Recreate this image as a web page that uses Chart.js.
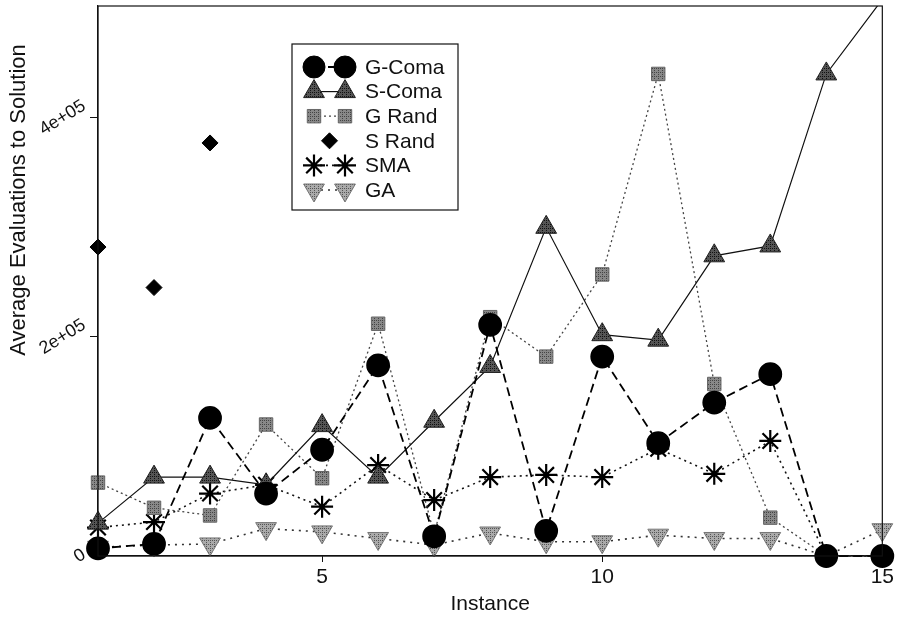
<!DOCTYPE html>
<html>
<head>
<meta charset="utf-8">
<script src="https://cdn.jsdelivr.net/npm/chart.js@4/dist/chart.umd.min.js"></script>
<style>
  html, body { margin: 0; padding: 0; background: #fff; }
  #wrap { width: 897px; height: 618px; }
</style>
</head>
<body>
<div id="wrap"><canvas id="chart"></canvas></div>
<script>
// ---- data ----
const instances = [1, 2, 3, 4, 5, 6, 7, 8, 9, 10, 11, 12, 13, 14, 15];
const gComa = [7000, 11000, 126000, 57000, 97000, 174000, 18000, 211000, 23000, 182000, 103000, 140000, 166000, 0, 0];
const sComa = [30000, 72000, 72000, 65000, 119000, 72000, 123000, 173000, 300000, 202000, 197000, 274000, 283000, 440000, 508000];
const gRand = [67000, 44000, 37000, 120000, 71000, 212000, 20000, 218000, 182000, 257000, 440000, 157000, 35000, 0, 0];
const sRand = [282000, 245000, 377000, null, null, null, null, null, null, null, null, null, null, null, null];
const sma = [26000, 31000, 57000, 65000, 45000, 83000, 51000, 72000, 74000, 72000, 98000, 75000, 105000, 0, 0];
const ga = [8000, 10000, 11000, 25000, 22000, 16000, 10000, 21000, 13000, 13000, 19000, 16000, 16000, 0, 24000];

const xTicks = [5, 10, 15];
const yTicks = [0, 200000, 400000];
const yTickLabels = ['0', '2e+05', '4e+05'];

const FONT = "'Liberation Sans', Arial, sans-serif";

// small hatch patterns for the grey markers
function hatch(bg, fg) {
    const c = document.createElement('canvas');
    c.width = 4; c.height = 4;
    const g = c.getContext('2d');
    g.fillStyle = bg;
    g.fillRect(0, 0, 4, 4);
    g.fillStyle = fg;
    g.fillRect(0, 0, 1, 1);
    g.fillRect(2, 2, 1, 1);
    g.fillRect(2, 0, 1, 1);
    return g.createPattern(c, 'repeat');
}

const triFill = hatch('#555', '#111');
const sqFill = hatch('#888', '#444');
const gaFill = hatch('#aaa', '#555');

const pts = arr => instances.map((x, i) => ({ x: x, y: arr[i] }));
const clip = { left: 20, top: 0, right: 20, bottom: 20 };

const datasets = [
    {
        label: 'G-Coma', data: pts(gComa),
        borderColor: '#000', borderWidth: 1.8, borderDash: [9, 5],
        pointStyle: 'circle', pointRadius: 11, pointBackgroundColor: '#000', pointBorderColor: '#000'
    },
    {
        label: 'S-Coma', data: pts(sComa),
        borderColor: '#111', borderWidth: 1.2,
        pointStyle: 'triangle', pointRadius: 12, pointBackgroundColor: triFill, pointBorderColor: '#222', pointBorderWidth: 1
    },
    {
        label: 'G Rand', data: pts(gRand),
        borderColor: '#444', borderWidth: 1.3, borderDash: [2, 3],
        pointStyle: 'rect', pointRadius: 9.5, pointBackgroundColor: sqFill, pointBorderColor: '#666', pointBorderWidth: 1
    },
    {
        label: 'S Rand', data: pts(sRand), showLine: false,
        borderColor: '#000',
        pointStyle: 'rectRot', pointRadius: 8, pointBackgroundColor: '#000', pointBorderColor: '#000'
    },
    {
        label: 'SMA', data: pts(sma),
        borderColor: '#111', borderWidth: 1.6, borderDash: [2, 4],
        pointStyle: 'star', pointRadius: 11, pointBorderColor: '#000', pointBorderWidth: 2.2, pointBackgroundColor: '#000'
    },
    {
        label: 'GA', data: pts(ga),
        borderColor: '#333', borderWidth: 1.6, borderDash: [2, 5],
        pointStyle: 'triangle', pointRotation: 180, pointRadius: 12, pointBackgroundColor: gaFill, pointBorderColor: '#777', pointBorderWidth: 1
    }
];
datasets.forEach(d => { d.clip = clip; d.tension = 0; d.fill = false; });

// frame, rotated y labels, y title and the legend box
const decor = {
    id: 'decor',
    afterDraw(chart) {
        const ctx = chart.ctx;
        const a = chart.chartArea;
        const ys = chart.scales.y;
        ctx.save();

        ctx.strokeStyle = '#111';
        ctx.lineWidth = 1.2;
        ctx.strokeRect(a.left, a.top, a.right - a.left, a.bottom - a.top);

        // y tick labels, slanted
        ctx.fillStyle = '#111';
        ctx.font = '18px ' + FONT;
        ctx.textAlign = 'center';
        ctx.textBaseline = 'middle';
        const ang = 32 * Math.PI / 180;
        yTicks.forEach((v, i) => {
            const y = ys.getPixelForValue(v);
            const w = ctx.measureText(yTickLabels[i]).width;
            ctx.save();
            ctx.translate(84 - (w / 2) * Math.cos(ang), y);
            ctx.rotate(-ang);
            ctx.fillText(yTickLabels[i], 0, 0);
            ctx.restore();
        });

        // y title
        ctx.save();
        ctx.font = '22px ' + FONT;
        ctx.translate(19, 200);
        ctx.rotate(-Math.PI / 2);
        ctx.fillText('Average Evaluations to Solution', 0, 0);
        ctx.restore();

        // legend
        const bx = 292, by = 44, bw = 166, bh = 166;
        ctx.fillStyle = '#fff';
        ctx.fillRect(bx, by, bw, bh);
        ctx.strokeStyle = '#111';
        ctx.lineWidth = 1.2;
        ctx.strokeRect(bx, by, bw, bh);

        const x1 = 314, x2 = 345, tx = 365;
        chart.data.datasets.forEach((d, i) => {
            const y = 67 + i * 24.6;
            if (d.showLine !== false) {
                ctx.save();
                ctx.strokeStyle = d.borderColor;
                ctx.lineWidth = d.borderWidth;
                ctx.setLineDash(d.borderDash || []);
                ctx.beginPath();
                ctx.moveTo(x1, y);
                ctx.lineTo(x2, y);
                ctx.stroke();
                ctx.restore();
            }
            const opts = {
                pointStyle: d.pointStyle,
                radius: d.pointRadius,
                rotation: d.pointRotation || 0,
                borderWidth: d.pointBorderWidth || 1
            };
            ctx.save();
            ctx.fillStyle = d.pointBackgroundColor;
            ctx.strokeStyle = d.pointBorderColor;
            ctx.lineWidth = opts.borderWidth;
            if (d.showLine === false) {
                Chart.helpers.drawPoint(ctx, opts, (x1 + x2) / 2, y);
            } else {
                Chart.helpers.drawPoint(ctx, opts, x1, y);
                Chart.helpers.drawPoint(ctx, opts, x2, y);
            }
            ctx.restore();

            ctx.fillStyle = '#111';
            ctx.font = '21px ' + FONT;
            ctx.textAlign = 'left';
            ctx.textBaseline = 'middle';
            ctx.fillText(d.label, tx, y + 1);
        });

        ctx.restore();
    }
};

new Chart(document.getElementById('chart'), {
    type: 'line',
    data: { datasets: datasets },
    options: {
        responsive: true,
        maintainAspectRatio: false,
        animation: false,
        layout: { autoPadding: false, padding: { top: 6, right: 14, left: 0, bottom: 0 } },
        plugins: {
            legend: { display: false },
            tooltip: { enabled: false }
        },
        scales: {
            x: {
                type: 'linear',
                min: 1,
                max: 15,
                afterBuildTicks: s => { s.ticks = xTicks.map(v => ({ value: v })); },
                afterFit: s => { s.height = 62; },
                grid: { drawOnChartArea: false, drawTicks: true, tickLength: 6, color: '#111' },
                border: { display: true, color: '#111', width: 1.2 },
                ticks: { color: '#111', padding: 3, maxRotation: 0, font: { family: FONT, size: 21 } },
                title: { display: true, text: 'Instance', color: '#111', padding: { top: 0, bottom: 1 }, font: { family: FONT, size: 21 } }
            },
            y: {
                type: 'linear',
                min: 0,
                max: 502000,
                afterBuildTicks: s => { s.ticks = yTicks.map(v => ({ value: v })); },
                afterFit: s => { s.width = 98; s.paddingTop = 0; s.paddingBottom = 0; },
                grid: { drawOnChartArea: false, drawTicks: true, tickLength: 8, color: '#111' },
                border: { display: true, color: '#111', width: 1.2 },
                ticks: { color: 'rgba(0,0,0,0)', font: { family: FONT, size: 2 } }
            }
        }
    },
    plugins: [decor]
});
</script>
</body>
</html>
